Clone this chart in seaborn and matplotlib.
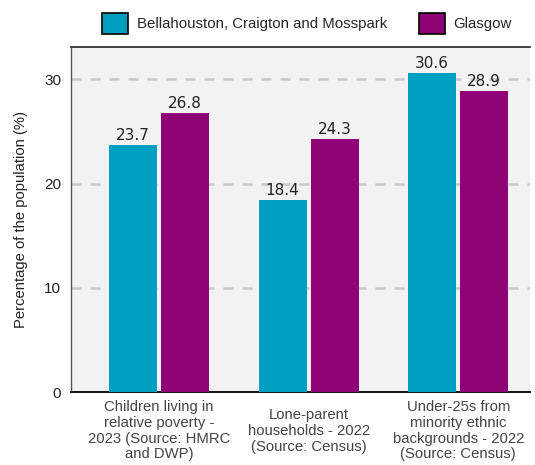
import matplotlib
matplotlib.use("Agg")
import matplotlib.pyplot as plt
from matplotlib.patches import Patch
import seaborn as sns
import pandas as pd

categories = [
    "Children living in\nrelative poverty -\n2023 (Source: HMRC\nand DWP)",
    "Lone-parent\nhouseholds - 2022\n(Source: Census)",
    "Under-25s from\nminority ethnic\nbackgrounds - 2022\n(Source: Census)",
]
areas = ["Bellahouston, Craigton and Mosspark", "Glasgow"]
local_values = [23.7, 18.4, 30.6]
glasgow_values = [26.8, 24.3, 28.9]
y_ticks = [0, 10, 20, 30]

colors = ["#009EC1", "#8E0177"]

df = pd.DataFrame({
    "category": categories * 2,
    "area": [areas[0]] * 3 + [areas[1]] * 3,
    "value": local_values + glasgow_values,
})

sns.set_theme(style="white")
plt.rcParams["font.family"] = ["Liberation Sans", "DejaVu Sans"]

fig = plt.figure(figsize=(5.35, 4.65), dpi=100)
ax = fig.add_axes([71 / 535, 73 / 465, 459 / 535, 345 / 465])
ax.set_facecolor("#F2F2F2")

sns.barplot(data=df, x="category", y="value", hue="area", palette=colors,
            saturation=1, width=0.696, gap=0.077, ax=ax, legend=False,
            zorder=3, edgecolor="none")

for container in ax.containers:
    ax.bar_label(container, fmt="%.1f", padding=1.5, fontsize=11,
                 family="DejaVu Sans", color="#222222")

ax.set_ylim(0, 33.1)
ax.set_xlim(-0.589, 2.48)
ax.set_yticks(y_ticks)
ax.yaxis.grid(True, color="#C8C8C8", linestyle=(0, (4, 3.6)), linewidth=1.8, zorder=0)
ax.xaxis.grid(False)

ax.tick_params(axis="y", length=0, pad=7, labelsize=11, labelcolor="#222222")
ax.tick_params(axis="x", length=0, pad=28, labelsize=10.7, labelcolor="#444444")
for lbl in ax.get_xticklabels():
    lbl.set_verticalalignment("center")
    lbl.set_linespacing(1.15)

ax.set_xlabel("")
ax.set_ylabel("Percentage of the population (%)", fontsize=10.6, color="#222222")
ax.yaxis.set_label_coords(-0.094, 0.5)

for side in ["left", "bottom", "top"]:
    ax.spines[side].set_visible(True)
ax.spines["right"].set_visible(False)
ax.spines["left"].set_color("#555555")
ax.spines["left"].set_linewidth(1.0)
ax.spines["bottom"].set_color("#111111")
ax.spines["bottom"].set_linewidth(1.4)
ax.spines["top"].set_color("#222222")
ax.spines["top"].set_linewidth(1.2)

handles = [Patch(facecolor=c, edgecolor="black", linewidth=1.2) for c in colors]
fig.legend(handles, areas, loc="center", bbox_to_anchor=(0.574, 0.95), ncol=2,
           frameon=False, fontsize=10.8, handlelength=1.73, handleheight=1.73,
           handletextpad=0.6, columnspacing=2.1)

fig.savefig("out.png", dpi=100)
